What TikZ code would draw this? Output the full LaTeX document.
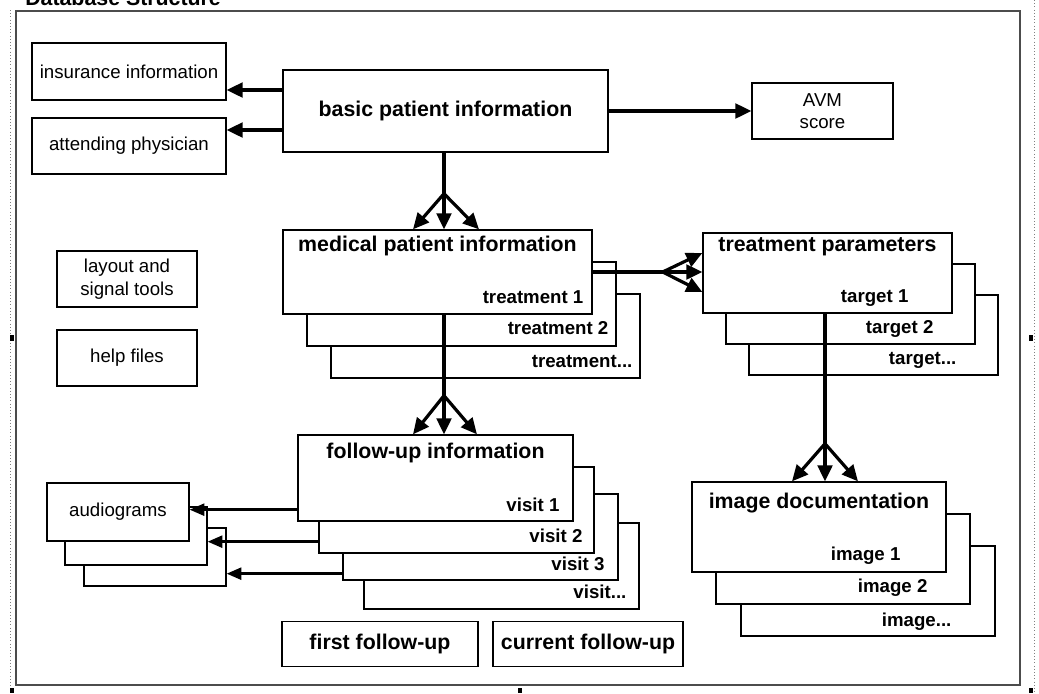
\documentclass[tikz,border=0pt]{standalone}
\usepackage{fontspec}
\setmainfont{Liberation Sans}
\usetikzlibrary{arrows.meta, positioning, calc}

\begin{document}
\begin{tikzpicture}[x=0.75pt, y=-0.75pt,
                    box/.style={draw, fill=white, line width=1pt, inner sep=0pt, align=center,
                                font=\fontsize{14}{17}\selectfont},
                    sz/.style 2 args={minimum width=#1*0.75pt, minimum height=#2*0.75pt},
                    bold/.style={font=\bfseries\fontsize{16}{19}\selectfont},
                    head/.style={anchor=base, inner sep=0pt, bold},
                    tag/.style={anchor=base east, inner sep=0pt, font=\bfseries\fontsize{14}{17}\selectfont},
                    link/.style={line width=2.4pt, line cap=round},
                    arr/.style={link, -{Triangle[length=12pt, width=11pt]}},
                    thin arr/.style={line width=1.8pt, -{Triangle[length=11pt, width=9pt]}}]

\useasboundingbox (0,0) rectangle (1039,693);

\node[anchor=base west, inner sep=0pt, bold] (title) at (25,5) {Database Structure};

\draw[dotted, gray] (10,10) -- (10,693);
\draw[dotted, gray] (1034,0) -- (1034,693);
\draw[black!70, line width=1pt] (16,11) rectangle (1020,685);
\fill (10,335) rectangle (14,341);
\fill (1029,335) rectangle (1033,341);
\fill (10,688) rectangle (14,693);
\fill (518,688) rectangle (522,693);
\fill (1029,688) rectangle (1033,693);

\node[box, sz={194}{57}] (ins) at (129,71.5) {insurance information};
\node[box, sz={194}{56}] (phys) at (129,146) {attending physician};
\node[box, sz={325}{82}, bold] (basic) at (445.5,111) {basic patient information};
\node[box, sz={141}{56}] (avm) at (822.5,111) {AVM\\score};
\node[box, sz={140}{56}] (layout) at (127,279) {layout and\\signal tools};
\node[box, sz={140}{56}] (help) at (127,358) {help files};

\node[box, sz={309}{84}] (med3) at (485.5,336) {};
\node[tag] (med3t) at ([shift={(-8,-11)}]med3.south east) {treatment...};
\node[box, sz={309}{84}] (med2) at (461.5,304) {};
\node[tag] (med2t) at ([shift={(-8,-12)}]med2.south east) {treatment 2};
\node[box, sz={309}{84}] (med1) at (437.5,272) {};
\node[tag] (med1t) at ([shift={(-9,-11)}]med1.south east) {treatment 1};
\node[head] (med1h) at ([shift={(0,22)}]med1.north) {medical patient information};

\node[box, sz={249}{80}] (tp3) at (873.5,335) {};
\node[tag] (tp3t) at ([shift={(-42,-11)}]tp3.south east) {target...};
\node[box, sz={249}{80}] (tp2) at (850.5,304) {};
\node[tag] (tp2t) at ([shift={(-42,-11)}]tp2.south east) {target 2};
\node[box, sz={249}{80}] (tp1) at (827.5,273) {};
\node[tag] (tp1t) at ([shift={(-44,-11)}]tp1.south east) {target 1};
\node[head] (tp1h) at ([shift={(0,19)}]tp1.north) {treatment parameters};

\node[box, sz={275}{86}] (fu4) at (501.5,566) {};
\node[tag] (fu4t) at ([shift={(-13,-11)}]fu4.south east) {visit...};
\node[box, sz={275}{86}] (fu3) at (480.5,537) {};
\node[tag] (fu3t) at ([shift={(-14,-10)}]fu3.south east) {visit 3};
\node[box, sz={275}{86}] (fu2) at (456.5,510) {};
\node[tag] (fu2t) at ([shift={(-12,-11)}]fu2.south east) {visit 2};
\node[box, sz={275}{86}] (fu1) at (435.5,478) {};
\node[tag] (fu1t) at ([shift={(-14,-10)}]fu1.south east) {visit 1};
\node[head] (fu1h) at ([shift={(0,24)}]fu1.north) {follow-up information};

\node[box, sz={254}{90}] (img3) at (868,591) {};
\node[tag] (img3t) at ([shift={(-44,-10)}]img3.south east) {image...};
\node[box, sz={254}{90}] (img2) at (843,559) {};
\node[tag] (img2t) at ([shift={(-43,-12)}]img2.south east) {image 2};
\node[box, sz={254}{90}] (img1) at (819,527) {};
\node[tag] (img1t) at ([shift={(-46,-12)}]img1.south east) {image 1};
\node[head] (img1h) at ([shift={(0,27)}]img1.north) {image documentation};

\node[box, sz={142}{58}] (aud3) at (155,557) {};
\node[box, sz={142}{58}] (aud2) at (136,536) {};
\node[box, sz={142}{58}] (aud1) at (118,512) {audiograms};

\node[box, sz={196}{45}, bold] (first) at (380,644) {first follow-up};
\node[box, sz={190}{45}, bold] (current) at (588,644) {current follow-up};

\coordinate (b1) at ($(basic.west)+(0,-21)$);
\coordinate (b2) at ($(basic.west)+(0,19)$);
\draw[arr] (b1) -- (b1 -| ins.east);
\draw[arr] (b2) -- (b2 -| phys.east);
\draw[arr] (basic) -- (avm);

\coordinate (fan1) at ($(basic.south)+(-1.5,41)$);
\draw[link] (basic.south -| fan1) -- (fan1);
\draw[arr] (fan1) -- ($(fan1 |- med1.north)+(-31,0)$);
\draw[arr] (fan1) -- (fan1 |- med1.north);
\draw[arr] (fan1) -- ($(fan1 |- med1.north)+(35,0)$);

\coordinate (fan2) at ($(med1.east)+(70,0)$);
\draw[link] (med1.east) -- (fan2);
\draw[arr] (fan2) -- ($(fan2 -| tp1.west)+(0,-19)$);
\draw[arr] (fan2) -- (fan2 -| tp1.west);
\draw[arr] (fan2) -- ($(fan2 -| tp1.west)+(0,20)$);

\coordinate (fan3) at ($(fan1 |- med1.south)+(0,81)$);
\draw[link] (fan1 |- med1.south) -- (fan3);
\draw[arr] (fan3) -- ($(fan3 |- fu1.north)+(-31,0)$);
\draw[arr] (fan3) -- (fan3 |- fu1.north);
\draw[arr] (fan3) -- ($(fan3 |- fu1.north)+(33,0)$);

\coordinate (fan4) at ($(tp1.south)+(-2.5,130)$);
\draw[link] (fan4 |- tp1.south) -- (fan4);
\draw[arr] (fan4) -- ($(fan4 |- img1.north)+(-33,0)$);
\draw[arr] (fan4) -- (fan4 |- img1.north);
\draw[arr] (fan4) -- ($(fan4 |- img1.north)+(33,0)$);

\coordinate (v1) at ($(fu1.south west)+(0,-12)$);
\coordinate (v2) at ($(fu2.south west)+(0,-12)$);
\coordinate (v3) at ($(fu3.south west)+(0,-7)$);
\draw[thin arr] (v1) -- (v1 -| aud1.east);
\draw[thin arr] (v2) -- (v2 -| aud2.east);
\draw[thin arr] (v3) -- (v3 -| aud3.east);

\end{tikzpicture}
\end{document}
